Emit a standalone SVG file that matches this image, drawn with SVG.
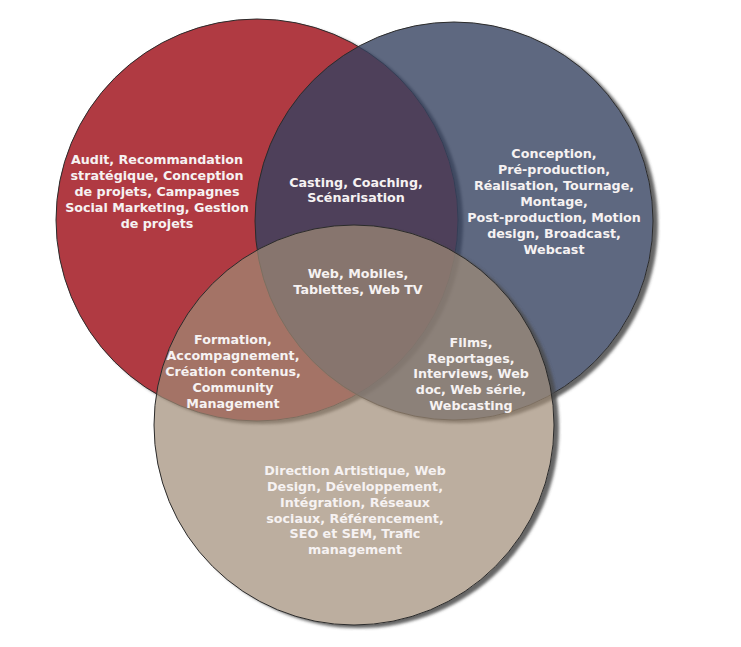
<svg xmlns="http://www.w3.org/2000/svg" width="741" height="647" viewBox="0 0 741 647">
<style>
.lbl{font-family:"DejaVu Sans","Verdana",sans-serif;font-weight:bold;font-size:12.7px;fill:#f6f2f2;text-anchor:middle}
.edge{stroke:#2b2b2b;stroke-width:1}
.shadow{fill:#4a4a4a;fill-opacity:0.85;filter:url(#blur)}
</style>
<defs>
<filter id="blur" x="-10%" y="-10%" width="120%" height="120%"><feGaussianBlur stdDeviation="1.8"/></filter>
<mask id="mRed" maskUnits="userSpaceOnUse" x="0" y="0" width="741" height="647"><rect width="741" height="647" fill="#fff"/><circle cx="257" cy="220" r="201" fill="#000"/></mask>
<mask id="mBlue" maskUnits="userSpaceOnUse" x="0" y="0" width="741" height="647"><rect width="741" height="647" fill="#fff"/><circle cx="454" cy="221" r="199" fill="#000"/></mask>
<mask id="mBeige" maskUnits="userSpaceOnUse" x="0" y="0" width="741" height="647"><rect width="741" height="647" fill="#fff"/><circle cx="354" cy="425" r="200" fill="#000"/></mask>
</defs>
<rect width="741" height="647" fill="#ffffff"/>
<g id="red">
<circle class="shadow" cx="262" cy="223" r="201" mask="url(#mRed)"/>
<circle class="edge" cx="257" cy="220" r="201" fill="#b03a42"/>
<text class="lbl" x="157" y="164">Audit, Recommandation</text>
<text class="lbl" x="157" y="180">stratégique, Conception</text>
<text class="lbl" x="157" y="196">de projets, Campagnes</text>
<text class="lbl" x="157" y="212">Social Marketing, Gestion</text>
<text class="lbl" x="157" y="228">de projets</text>
</g>
<g id="blue">
<circle class="shadow" cx="459" cy="224" r="199" mask="url(#mBlue)"/>
<circle class="edge" cx="454" cy="221" r="199" fill="#364260" fill-opacity="0.8"/>
<text class="lbl" x="554" y="158">Conception,</text>
<text class="lbl" x="554" y="174">Pré-production,</text>
<text class="lbl" x="554" y="190">Réalisation, Tournage,</text>
<text class="lbl" x="554" y="206">Montage,</text>
<text class="lbl" x="554" y="222">Post-production, Motion</text>
<text class="lbl" x="554" y="238">design, Broadcast,</text>
<text class="lbl" x="554" y="254">Webcast</text>
</g>
<g id="beige">
<circle class="shadow" cx="359" cy="428" r="200" mask="url(#mBeige)"/>
<circle class="edge" cx="354" cy="425" r="200" fill="#9f8b76" fill-opacity="0.7"/>
<text class="lbl" x="355" y="475">Direction Artistique, Web</text>
<text class="lbl" x="355" y="491">Design, Développement,</text>
<text class="lbl" x="355" y="507">Intégration, Réseaux</text>
<text class="lbl" x="355" y="523">sociaux, Référencement,</text>
<text class="lbl" x="355" y="538">SEO et SEM, Trafic</text>
<text class="lbl" x="355" y="554">management</text>
</g>
<g id="red-blue">
<text class="lbl" x="356" y="187">Casting, Coaching,</text>
<text class="lbl" x="356" y="202">Scénarisation</text>
</g>
<g id="center">
<text class="lbl" x="358" y="278">Web, Mobiles,</text>
<text class="lbl" x="358" y="294">Tablettes, Web TV</text>
</g>
<g id="red-beige">
<text class="lbl" x="233" y="344">Formation,</text>
<text class="lbl" x="233" y="360">Accompagnement,</text>
<text class="lbl" x="233" y="376">Création contenus,</text>
<text class="lbl" x="233" y="392">Community</text>
<text class="lbl" x="233" y="408">Management</text>
</g>
<g id="blue-beige">
<text class="lbl" x="471" y="347">Films,</text>
<text class="lbl" x="471" y="363">Reportages,</text>
<text class="lbl" x="471" y="378">Interviews, Web</text>
<text class="lbl" x="471" y="394">doc, Web série,</text>
<text class="lbl" x="471" y="410">Webcasting</text>
</g>
<g id="connectors"/>
</svg>
